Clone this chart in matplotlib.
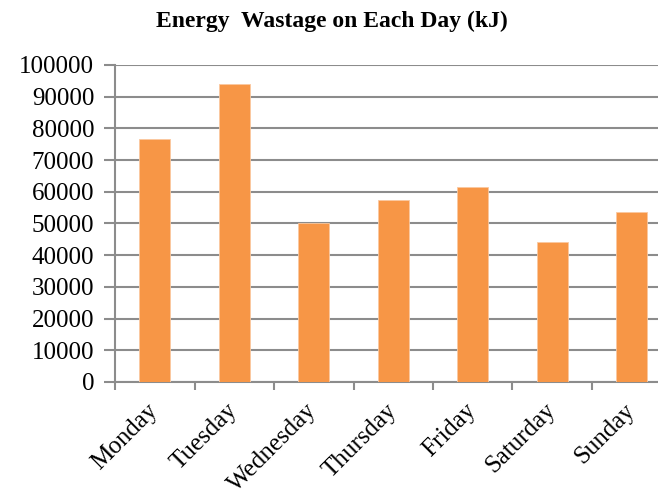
import matplotlib
matplotlib.use("Agg")
import matplotlib.pyplot as plt
import numpy as np

days = ["Monday", "Tuesday", "Wednesday", "Thursday", "Friday", "Saturday", "Sunday"]
wastage_kj = [76700, 94000, 50000, 57500, 61400, 44200, 53600]
y_ticks = [0, 10000, 20000, 30000, 40000, 50000, 60000, 70000, 80000, 90000, 100000]

plt.rcParams["font.family"] = ["Liberation Serif", "DejaVu Serif"]

grid_color = "#8c8c8c"
bar_color = "#F79646"

fig = plt.figure(figsize=(6.58, 4.95), dpi=100)
ax = fig.add_axes([0.1748, 0.2283, 0.8457, 0.6404])

x = np.arange(len(days))
ax.bar(x, wastage_kj, width=0.39, color=bar_color, edgecolor="#FAC8A0",
       linewidth=0.6, zorder=3)

ax.set_xlim(-0.5, len(days) - 0.5)
ax.set_ylim(0, 100000)
ax.set_yticks(y_ticks)
ax.set_yticklabels([str(v) for v in y_ticks], fontsize=18)
ax.yaxis.grid(True, color=grid_color, linewidth=1.5, zorder=0)
ax.set_axisbelow(True)

# category labels at the bar centres, tick marks at the category boundaries
ax.set_xticks(x)
ax.set_xticklabels(days, fontsize=18, rotation=45, ha="right",
                   va="center", rotation_mode="anchor")
ax.set_xticks(np.arange(-0.5, len(days)), minor=True)
ax.tick_params(axis="x", which="major", length=0, pad=18)
ax.tick_params(axis="x", which="minor", length=6, width=1.5, color=grid_color,
               direction="out")
ax.tick_params(axis="y", length=8, width=1.5, color=grid_color,
               direction="out", pad=7)

for side in ("top", "right"):
    ax.spines[side].set_visible(False)
for side in ("left", "bottom"):
    ax.spines[side].set_color(grid_color)
    ax.spines[side].set_linewidth(1.5)

fig.text(0.505, 0.957, "Energy  Wastage on Each Day (kJ)", ha="center",
         va="center", fontsize=17, fontweight="bold")

fig.savefig("out.png", dpi=100)
